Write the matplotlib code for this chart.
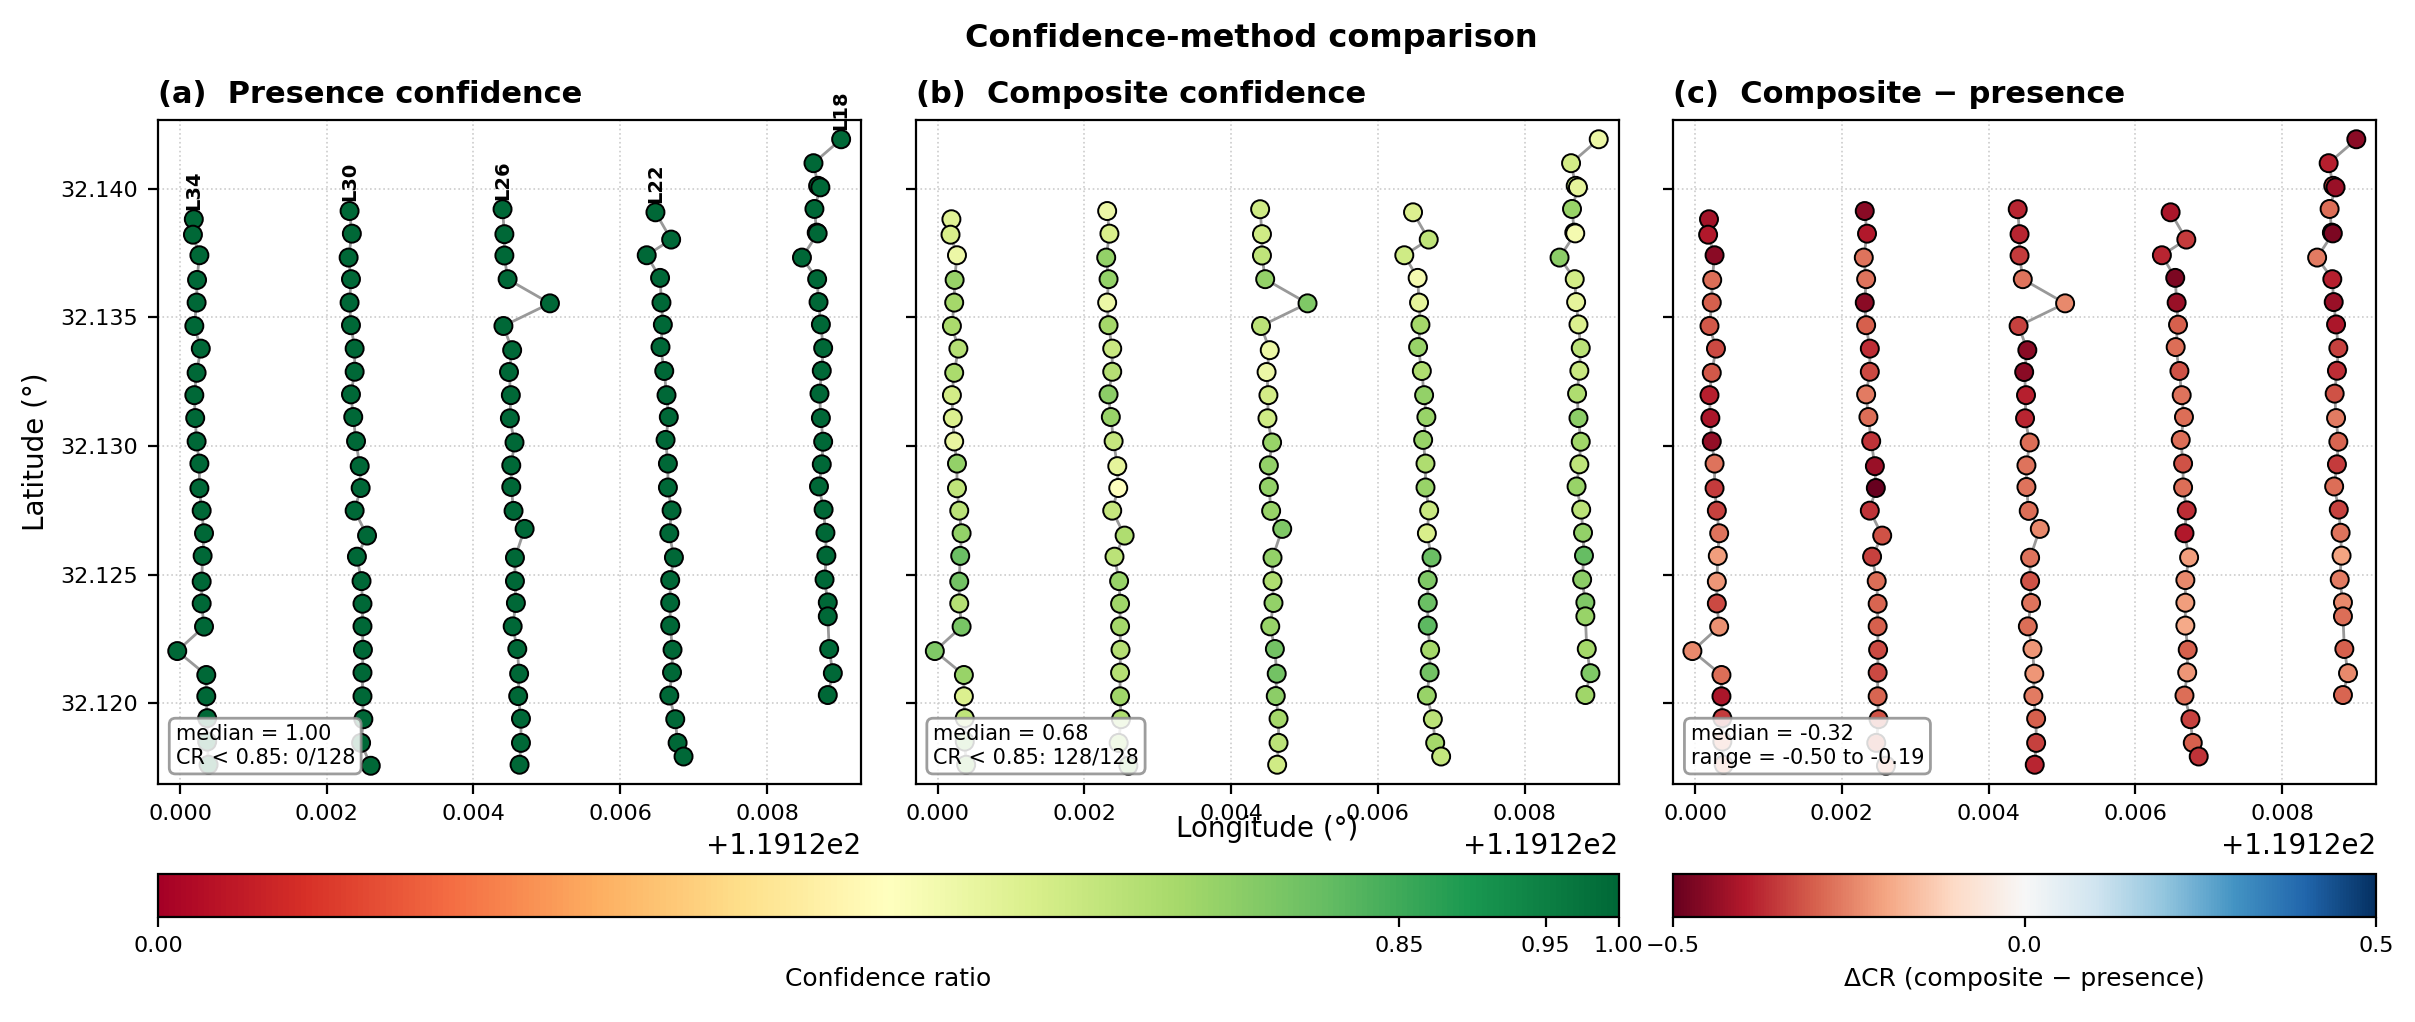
import numpy as np
import matplotlib
matplotlib.use("Agg")
import matplotlib.pyplot as plt
from matplotlib.colors import Normalize
from matplotlib.cm import ScalarMappable

# ---- data: survey lines, longitude / latitude / confidence ratios ----------
LINE_NAMES = ["L34", "L30", "L26", "L22", "L18"]

LON_L34 = [119.120188, 119.120176, 119.120264, 119.120232, 119.120226, 119.120195, 119.120283,
           119.120226, 119.120195, 119.120207, 119.120226, 119.120264, 119.120264, 119.120295,
           119.120327, 119.120308, 119.120295, 119.120295, 119.120327, 119.119962, 119.120358,
           119.120358, 119.120370, 119.120370, 119.120389]
LAT_L34 = [32.13882, 32.13822, 32.13742, 32.13646, 32.13558, 32.13467, 32.13379, 32.13285,
           32.13198, 32.13109, 32.13018, 32.12932, 32.12836, 32.12749, 32.12661, 32.12573,
           32.12473, 32.12388, 32.12298, 32.12203, 32.12110, 32.12027, 32.11942, 32.11851, 32.11761]

LON_L30 = [119.122311, 119.122342, 119.122298, 119.122330, 119.122311, 119.122330, 119.122380,
           119.122380, 119.122330, 119.122361, 119.122399, 119.122449, 119.122462, 119.122380,
           119.122549, 119.122411, 119.122474, 119.122487, 119.122487, 119.122493, 119.122487,
           119.122487, 119.122499, 119.122468, 119.122600]
LAT_L30 = [32.13914, 32.13826, 32.13733, 32.13649, 32.13558, 32.13470, 32.13379, 32.13289,
           32.13201, 32.13113, 32.13019, 32.12922, 32.12837, 32.12749, 32.12652, 32.12570,
           32.12475, 32.12387, 32.12299, 32.12208, 32.12119, 32.12027, 32.11938, 32.11846, 32.11757]

LON_L26 = [119.124396, 119.124421, 119.124421, 119.124465, 119.125042, 119.124408, 119.124527,
           119.124484, 119.124509, 119.124496, 119.124559, 119.124515, 119.124515, 119.124546,
           119.124697, 119.124565, 119.124565, 119.124578, 119.124534, 119.124597, 119.124622,
           119.124609, 119.124647, 119.124647, 119.124628]
LAT_L26 = [32.13921, 32.13824, 32.13741, 32.13649, 32.13555, 32.13467, 32.13373, 32.13288,
           32.13198, 32.13108, 32.13014, 32.12925, 32.12841, 32.12748, 32.12678, 32.12566,
           32.12475, 32.12390, 32.12299, 32.12211, 32.12115, 32.12028, 32.11940, 32.11846, 32.11761]

LON_L22 = [119.126480, 119.126694, 119.126361, 119.126543, 119.126562, 119.126581, 119.126549,
           119.126600, 119.126631, 119.126662, 119.126618, 119.126650, 119.126650, 119.126700,
           119.126669, 119.126732, 119.126681, 119.126681, 119.126681, 119.126713, 119.126706,
           119.126669, 119.126750, 119.126782, 119.126863]
LAT_L22 = [32.13909, 32.13803, 32.13742, 32.13654, 32.13558, 32.13472, 32.13385, 32.13292,
           32.13198, 32.13113, 32.13024, 32.12932, 32.12839, 32.12750, 32.12661, 32.12567,
           32.12479, 32.12391, 32.12302, 32.12208, 32.12120, 32.12030, 32.11938, 32.11846, 32.11793]

LON_L18 = [119.129011, 119.128634, 119.128697, 119.128728, 119.128647, 119.128678, 119.128691,
           119.128477, 119.128684, 119.128703, 119.128735, 119.128766, 119.128747, 119.128716,
           119.128735, 119.128766, 119.128747, 119.128709, 119.128772, 119.128797, 119.128810,
           119.128785, 119.128829, 119.128829, 119.128848, 119.128898, 119.128829]
LAT_L18 = [32.14193, 32.14100, 32.14012, 32.14006, 32.13922, 32.13830, 32.13827, 32.13733,
           32.13649, 32.13560, 32.13473, 32.13381, 32.13293, 32.13204, 32.13109, 32.13017,
           32.12929, 32.12843, 32.12753, 32.12663, 32.12574, 32.12481, 32.12392, 32.12338,
           32.12211, 32.12117, 32.12032]

# presence confidence ratio (all lines saturate at 1.0)
PRES_L34 = [1.0] * 25
PRES_L30 = [1.0] * 25
PRES_L26 = [1.0] * 25
PRES_L22 = [1.0] * 25
PRES_L18 = [1.0] * 27

# composite confidence ratio
COMP_L34 = [0.58, 0.60, 0.55, 0.72, 0.70, 0.69, 0.67, 0.69, 0.61, 0.59, 0.56, 0.73, 0.65,
            0.66, 0.73, 0.79, 0.78, 0.67, 0.77, 0.76, 0.72, 0.59, 0.65, 0.75, 0.75]
COMP_L30 = [0.55, 0.60, 0.73, 0.73, 0.55, 0.70, 0.63, 0.67, 0.74, 0.72, 0.64, 0.57, 0.50,
            0.64, 0.68, 0.66, 0.72, 0.71, 0.70, 0.67, 0.67, 0.71, 0.68, 0.70, 0.75]
COMP_L26 = [0.62, 0.62, 0.65, 0.73, 0.76, 0.66, 0.55, 0.55, 0.61, 0.62, 0.72, 0.73, 0.73,
            0.72, 0.76, 0.73, 0.68, 0.73, 0.72, 0.78, 0.78, 0.74, 0.70, 0.66, 0.62]
COMP_L22 = [0.59, 0.65, 0.62, 0.53, 0.57, 0.70, 0.72, 0.68, 0.73, 0.72, 0.72, 0.68, 0.72,
            0.63, 0.60, 0.79, 0.76, 0.79, 0.81, 0.70, 0.78, 0.72, 0.66, 0.70, 0.64]
COMP_L18 = [0.55, 0.61, 0.66, 0.57, 0.72, 0.55, 0.53, 0.74, 0.61, 0.57, 0.59, 0.66, 0.63,
            0.68, 0.74, 0.71, 0.65, 0.72, 0.66, 0.73, 0.80, 0.74, 0.76, 0.72, 0.70, 0.76, 0.71]

LONS = [LON_L34, LON_L30, LON_L26, LON_L22, LON_L18]
LATS = [LAT_L34, LAT_L30, LAT_L26, LAT_L22, LAT_L18]
PRES = [PRES_L34, PRES_L30, PRES_L26, PRES_L22, PRES_L18]
COMP = [COMP_L34, COMP_L30, COMP_L26, COMP_L22, COMP_L18]

SUMMARY_A = "median = 1.00\nCR < 0.85: 0/128"
SUMMARY_B = "median = 0.68\nCR < 0.85: 128/128"
SUMMARY_C = "median = -0.32\nrange = -0.50 to -0.19"

# ---- figure ----------------------------------------------------------------
fig = plt.figure(figsize=(12.075, 5.11), dpi=200)
W = 0.2911
lefts = [0.0654, 0.3791, 0.6928]
axa = fig.add_axes([lefts[0], 0.2326, W, 0.650])
axb = fig.add_axes([lefts[1], 0.2326, W, 0.650], sharey=axa)
axc = fig.add_axes([lefts[2], 0.2326, W, 0.650], sharey=axa)
cax1 = fig.add_axes([lefts[0], 0.103, lefts[1] + W - lefts[0], 0.0418])
cax2 = fig.add_axes([lefts[2], 0.103, W, 0.0418])

cr_norm = Normalize(0.0, 1.0)
d_norm = Normalize(-0.5, 0.5)

panels = [
    (axa, "(a)  Presence confidence", "RdYlGn", cr_norm, SUMMARY_A),
    (axb, "(b)  Composite confidence", "RdYlGn", cr_norm, SUMMARY_B),
    (axc, "(c)  Composite \u2212 presence", "RdBu", d_norm, SUMMARY_C),
]

for k, (ax, title, cmap, norm, summary) in enumerate(panels):
    for name, lon, lat, pres, comp in zip(LINE_NAMES, LONS, LATS, PRES, COMP):
        if k == 0:
            vals = np.array(pres)
        elif k == 1:
            vals = np.array(comp)
        else:
            vals = np.array(comp) - np.array(pres)
        ax.plot(lon, lat, color="0.6", lw=1.0, zorder=2)
        ax.scatter(lon, lat, c=vals, cmap=cmap, norm=norm, s=42,
                   edgecolors="black", linewidths=0.7, zorder=3)
        if k == 0:
            top = int(np.argmax(lat))
            ax.annotate(name, (lon[top], lat[top]), xytext=(0, 3.5),
                        textcoords="offset points", rotation=90, ha="center",
                        va="bottom", fontsize=7, fontweight="bold",
                        annotation_clip=False, zorder=5)
    ax.set_title(title, loc="left", fontsize=11, fontweight="bold")
    ax.grid(True, ls=":", lw=0.6, color="0.8", zorder=0)
    ax.tick_params(labelsize=8)
    ax.text(0.025, 0.025, summary, transform=ax.transAxes, fontsize=7.5,
            ha="left", va="bottom", zorder=6,
            bbox=dict(boxstyle="round,pad=0.3", fc="white", ec="0.55", alpha=0.85))
    ax.set_xlim(119.119699, 119.129281)
    ax.set_ylim(32.11685, 32.14268)
    if k > 0:
        plt.setp(ax.get_yticklabels(), visible=False)

axa.set_ylabel("Latitude (\u00b0)", fontsize=10)
axb.set_xlabel("Longitude (\u00b0)", fontsize=10, labelpad=-3)

cb1 = fig.colorbar(ScalarMappable(norm=cr_norm, cmap="RdYlGn"), cax=cax1,
                   orientation="horizontal", ticks=[0.0, 0.85, 0.95, 1.0], format="%.2f")
cb1.set_label("Confidence ratio", fontsize=9)
cb1.ax.tick_params(labelsize=8)
cb2 = fig.colorbar(ScalarMappable(norm=d_norm, cmap="RdBu"), cax=cax2,
                   orientation="horizontal", ticks=[-0.5, 0.0, 0.5])
cb2.set_label("\u0394CR (composite \u2212 presence)", fontsize=9)
cb2.ax.tick_params(labelsize=8)

fig.suptitle("Confidence-method comparison", fontsize=11.5, fontweight="bold",
             x=0.518, y=0.962, va="center")

fig.savefig("out.png", dpi=200)
